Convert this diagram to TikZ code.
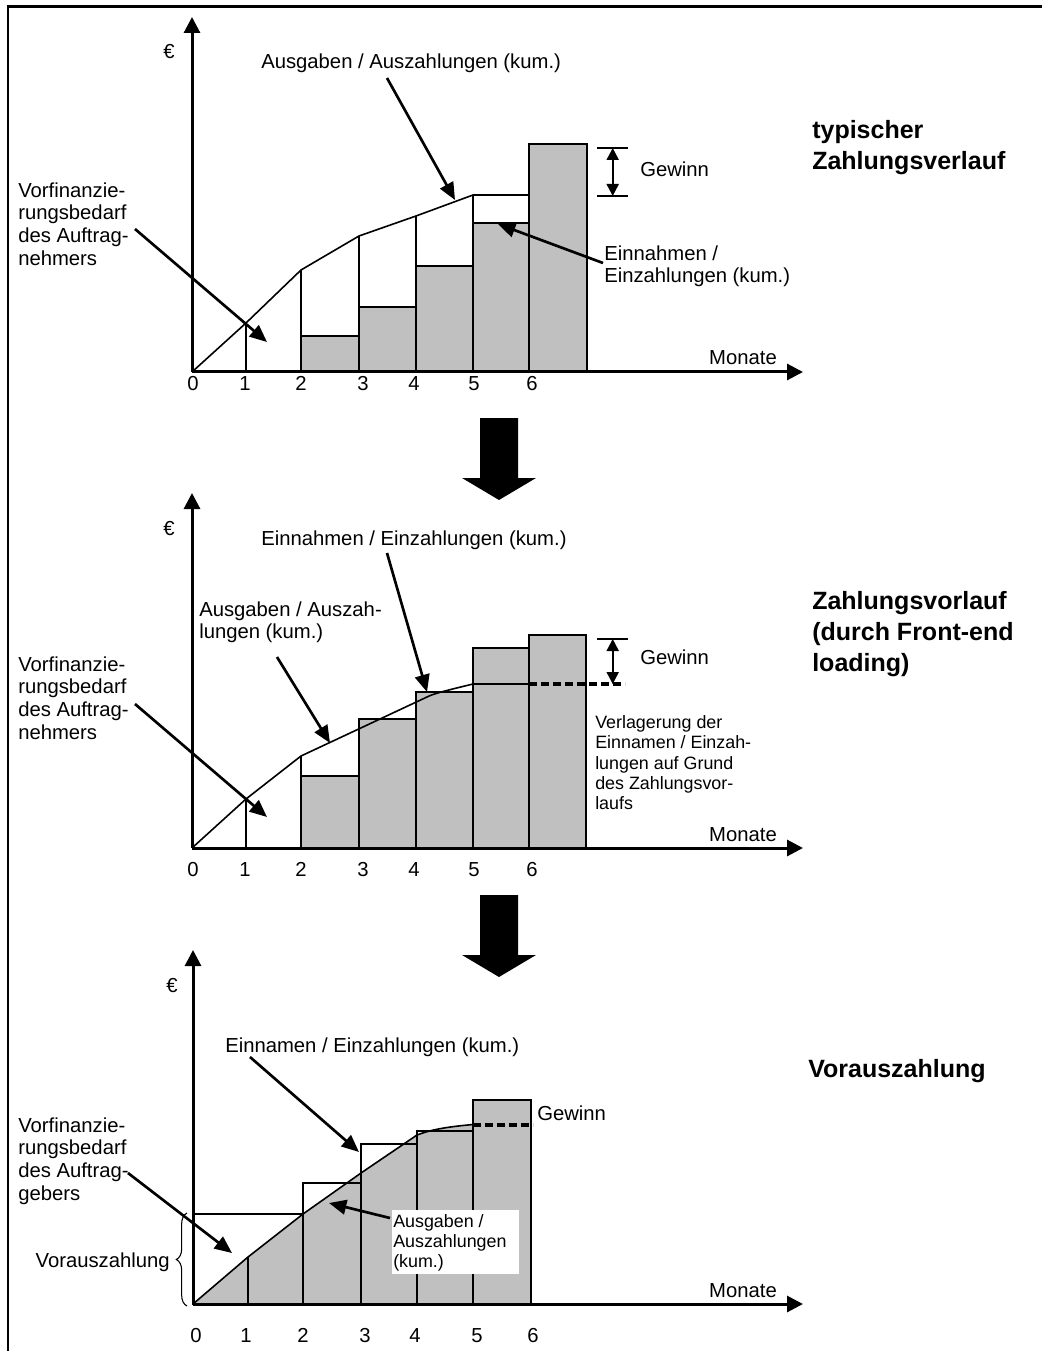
\documentclass[tikz,border=0pt]{standalone}
\usepackage{fontspec}
\setmainfont{Liberation Sans}
\usetikzlibrary{arrows.meta,decorations.pathreplacing}
\definecolor{barfill}{HTML}{C0C0C0}
\begin{document}
\begin{tikzpicture}[x=0.75pt,y=-0.75pt,
  txt/.style={font=\fontsize{15.2pt}{16.9pt}\selectfont,inner sep=0pt,align=left},
  smalltxt/.style={font=\fontsize{13.4pt}{15.2pt}\selectfont,inner sep=0pt,align=left},
  ttl/.style={font=\bfseries\fontsize{18.75pt}{23.25pt}\selectfont,inner sep=0pt,align=left},
  axisline/.style={line width=2.25pt,-{Triangle[length=12pt,width=12pt]}},
  barbox/.style={draw=black,line width=1.5pt,fill=barfill},
  outline/.style={draw=black,line width=1.4pt},
  curveline/.style={line width=1.2pt,line join=round},
  hairline/.style={line width=1pt},
  pointer/.style={line width=2pt,-{Triangle[length=13pt,width=11pt]}},
  gain/.style={line width=1.5pt,{Triangle[length=9pt,width=9pt]}-{Triangle[length=9pt,width=9pt]}},
  dashline/.style={line width=2.4pt,dash pattern=on 6pt off 3pt},
  blockarrow/.style={fill=black}
]
\useasboundingbox (0,0) rectangle (1042,1351);

% frame (top and left edges only)
\draw[line width=2pt] (8,1351) -- (8,6.5) -- (1042,6.5);

% ===================== chart 1: typischer Zahlungsverlauf =====================
\foreach \a/\b/\t in {301/359/336, 359/416/307, 416/473/266, 473/529/223, 529/587/144}
  \draw[barbox] (\a,372) rectangle (\b,\t);
\draw[hairline] (246,372) -- (246,323);
\foreach \a/\b/\t in {301/336/270, 359/307/236, 416/266/216, 473/223/195, 529/223/195}
  \draw[outline] (\a,\b) -- (\a,\t);
\draw[curveline] (192,372) -- (246,323) -- (301,270) -- (359,236) -- (416,216) -- (473,195) -- (529,195);

\coordinate (o1) at (192,372);
\coordinate (ytip1) at (192,17);
\coordinate (xtip1) at (803,372);
\draw[axisline] (o1) -- (ytip1);
\draw[axisline] (o1) -- (xtip1);

\node[txt,anchor=base] (eur1) at (169,59) {€};
\node[txt,anchor=base] (mon1) at (743,364) {Monate};
\foreach \x/\n in {193/0,245/1,301/2,363/3,414/4,474/5,532/6}
  \node[txt,anchor=base] (ta\n) at (\x,391) {\n};

% profit marker
\draw[outline] (597,148) -- (628,148);
\draw[outline] (597,196) -- (628,196);
\coordinate (g1t) at (612.7,148);
\coordinate (g1b) at (612.7,196);
\draw[gain] (g1t) -- (g1b);
\node[txt,anchor=base west] (gew1) at (640,177) {Gewinn};

% labels with pointers
\node[txt,anchor=base west] (aus1) at (261,69) {Ausgaben / Auszahlungen (kum.)};
\coordinate (aus1s) at (387,78);
\coordinate (aus1e) at (455,200);
\draw[pointer] (aus1s) -- (aus1e);

\node[txt,anchor=north west] (ein1) at (604,245.5) {Einnahmen /\\Einzahlungen (kum.)};
\coordinate (ein1s) at (603,263);
\coordinate (ein1e) at (498,224);
\draw[pointer] (ein1s) -- (ein1e);

\node[txt,anchor=north west] (vf1) at (18,182.5) {Vorfinanzie-\\rungsbedarf\\des Auftrag-\\nehmers};
\coordinate (vf1s) at (135,229);
\coordinate (vf1e) at (267,342);
\draw[pointer] (vf1s) -- (vf1e);

\node[ttl,anchor=north west] (ttl1) at (812,120) {typischer\\Zahlungsverlauf};

% transition arrow
\fill[blockarrow] (480,418) -- (518,418) -- (518,478) -- (536,478) -- (499,500) -- (462,478) -- (480,478) -- cycle;

% ===================== chart 2: Zahlungsvorlauf =====================
\foreach \a/\b/\t in {301/359/776, 359/416/719, 416/473/692, 473/529/648, 529/586/635}
  \draw[barbox] (\a,848) rectangle (\b,\t);
\draw[hairline] (246,848) -- (246,799);
\draw[hairline] (301,776) -- (301,756);
\draw[curveline] (192,848) -- (246,799) -- (301,756) -- (427,697)
  .. controls (433,694) and (440,692) .. (473,684) -- (529,684);
\draw[dashline] (529,684) -- (625,684);

\coordinate (o2) at (192,848);
\coordinate (ytip2) at (192,493);
\coordinate (xtip2) at (803,848);
\draw[axisline] (o2) -- (ytip2);
\draw[axisline] (o2) -- (xtip2);

\node[txt,anchor=base] (eur2) at (169,535) {€};
\node[txt,anchor=base] (mon2) at (743,841) {Monate};
\foreach \x/\n in {193/0,245/1,301/2,363/3,414/4,474/5,532/6}
  \node[txt,anchor=base] (tb\n) at (\x,876) {\n};

\draw[outline] (597,639) -- (628,639);
\coordinate (g2t) at (612.7,639);
\coordinate (g2b) at (612.7,684);
\draw[gain] (g2t) -- (g2b);
\node[txt,anchor=base west] (gew2) at (640,664) {Gewinn};

\node[smalltxt,anchor=north west] (verl) at (595,715.5) {Verlagerung der\\Einnamen / Einzah-\\lungen auf Grund\\des Zahlungsvor-\\laufs};

\node[txt,anchor=base west] (ein2) at (261,545) {Einnahmen / Einzahlungen (kum.)};
\coordinate (ein2s) at (387,553);
\coordinate (ein2e) at (427,692);
\draw[pointer] (ein2s) -- (ein2e);

\node[txt,anchor=north west] (aus2) at (199,601.5) {Ausgaben / Auszah-\\lungen (kum.)};
\coordinate (aus2s) at (277,657);
\coordinate (aus2e) at (330,743);
\draw[pointer] (aus2s) -- (aus2e);

\node[txt,anchor=north west] (vf2) at (18,656.5) {Vorfinanzie-\\rungsbedarf\\des Auftrag-\\nehmers};
\coordinate (vf2s) at (135,704);
\coordinate (vf2e) at (267,817);
\draw[pointer] (vf2s) -- (vf2e);

\node[ttl,anchor=north west] (ttl2) at (812,591) {Zahlungsvorlauf\\(durch Front-end\\loading)};

% transition arrow
\fill[blockarrow] (480,895) -- (518,895) -- (518,955) -- (536,955) -- (499,977) -- (462,955) -- (480,955) -- cycle;

% ===================== chart 3: Vorauszahlung =====================
\fill[barfill] (193,1304) -- (248,1257) -- (303,1214) -- (361,1173) -- (417,1135)
  .. controls (430,1130) and (445,1127) .. (473,1124.5) -- (473,1304) -- cycle;
\draw[barbox] (473,1304) rectangle (531,1100);
\draw[hairline] (248,1304) -- (248,1257);
\foreach \a/\b/\t in {193/303/1214, 303/361/1183, 361/417/1144, 417/473/1131}
  \draw[outline] (\a,1304) rectangle (\b,\t);
\draw[curveline] (193,1304) -- (248,1257) -- (303,1214) -- (361,1173) -- (417,1135)
  .. controls (430,1130) and (445,1127) .. (473,1124.5);
\draw[dashline] (473,1125) -- (533,1125);

\coordinate (o3) at (193,1304);
\coordinate (ytip3) at (193,950);
\coordinate (xtip3) at (803,1304);
\draw[axisline] (o3) -- (ytip3);
\draw[axisline] (o3) -- (xtip3);

\node[txt,anchor=base] (eur3) at (172,992) {€};
\node[txt,anchor=base] (mon3) at (743,1297) {Monate};
\foreach \x/\n in {196/0,246/1,303/2,365/3,415/4,477/5,533/6}
  \node[txt,anchor=base] (tc\n) at (\x,1342) {\n};

\node[txt,anchor=base west] (gew3) at (537,1120) {Gewinn};

\node[txt,anchor=base west] (ein3) at (225,1052) {Einnamen / Einzahlungen (kum.)};
\coordinate (ein3s) at (250,1057);
\coordinate (ein3e) at (359,1152);
\draw[pointer] (ein3s) -- (ein3e);

\node[txt,anchor=north west] (vf3) at (18,1117.5) {Vorfinanzie-\\rungsbedarf\\des Auftrag-\\gebers};
\coordinate (vf3s) at (128,1173);
\coordinate (vf3e) at (232,1253);
\draw[pointer] (vf3s) -- (vf3e);

\fill[white] (392,1210) rectangle (519,1274);
\node[smalltxt,anchor=north west] (aus3) at (393,1214) {Ausgaben /\\Auszahlungen\\(kum.)};
\coordinate (aus3s) at (390,1218);
\coordinate (aus3e) at (329,1203);
\draw[pointer] (aus3s) -- (aus3e);

\draw[line width=0.8pt,decorate,decoration={brace,amplitude=8pt}] (187,1306) -- (187,1213);
\node[txt,anchor=base east] (vz) at (170,1267) {Vorauszahlung};

\node[ttl,anchor=north west] (ttl3) at (808,1059) {Vorauszahlung};

\end{tikzpicture}
\end{document}
